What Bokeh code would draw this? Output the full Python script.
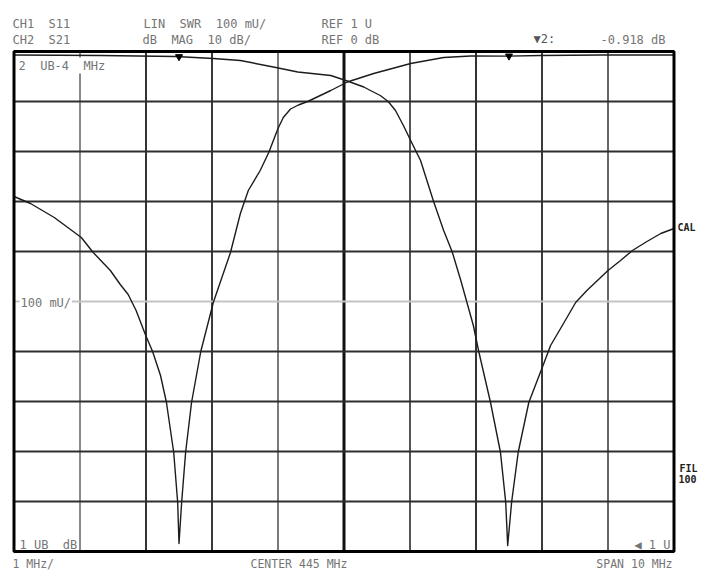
import numpy as np
from bokeh.plotting import figure
from bokeh.models import Range1d, Label
from bokeh.embed import file_html
from bokeh.resources import INLINE

# CH1: S11, linear SWR, 100 mU/div, reference 1 U at the bottom line
freq_ch1 = [440.00, 441.31, 442.45, 443.02, 443.43, 443.93, 444.30, 444.80, 445.05,
            445.30, 445.40, 445.55, 445.67, 445.78, 445.90, 446.01, 446.16, 446.36,
            446.51, 446.64, 446.77, 446.96, 447.04, 447.22, 447.37, 447.45, 447.48,
            447.54, 447.64, 447.80, 448.03, 448.13, 448.33, 448.51, 448.68, 449.00,
            449.19, 449.37, 449.59, 449.80, 450.00]
swr_ch1 = [1.993, 1.992, 1.990, 1.986, 1.982, 1.969, 1.959, 1.952, 1.941,
           1.929, 1.922, 1.912, 1.900, 1.882, 1.852, 1.822, 1.782, 1.699,
           1.642, 1.599, 1.542, 1.452, 1.401, 1.298, 1.199, 1.099, 1.012,
           1.099, 1.199, 1.298, 1.377, 1.412, 1.457, 1.498, 1.522, 1.562,
           1.582, 1.602, 1.620, 1.636, 1.646]

# CH2: S21, log magnitude, 10 dB/div, reference 0 dB at the top line
freq_ch2 = [440.00, 440.25, 440.61, 441.02, 441.20, 441.46, 441.61, 441.73, 441.85,
            441.99, 442.10, 442.22, 442.31, 442.42, 442.48, 442.50, 442.54, 442.60,
            442.69, 442.83, 443.02, 443.28, 443.43, 443.55, 443.73, 443.86, 444.00,
            444.08, 444.19, 444.31, 444.45, 444.80, 445.05, 445.45, 446.01, 446.51,
            446.92, 447.48, 447.98, 448.89, 450.00]
db_ch2 = [-29.0, -30.4, -33.2, -37.2, -40.2, -43.8, -46.6, -48.6, -51.8,
          -56.6, -60.0, -64.8, -70.2, -80.2, -90.2, -98.4, -90.2, -80.2,
          -70.2, -60.0, -50.2, -40.2, -32.4, -27.8, -23.8, -20.2, -15.4,
          -13.2, -11.5, -10.7, -10.0, -7.8, -6.1, -4.4, -2.4, -1.2,
          -0.9, -0.92, -0.8, -0.7, -0.7]

center_mhz = 445.0
span_mhz = 10.0
swr_bottom, swr_top = 1.0, 2.0
db_bottom, db_top = -100.0, 0.0
grid_freqs = [441, 442, 443, 444, 445, 446, 447, 448, 449]
grid_swr = [1.1, 1.2, 1.3, 1.4, 1.6, 1.7, 1.8, 1.9]
ref_line_swr = 1.5
marker_ch1_freq = 442.5
marker_ch2_freq = 447.5
marker_ch2_value = "-0.918 dB"

NB = "\u00a0"
header_row1 = ["CH1" + NB * 2 + "S11", "LIN" + NB * 2 + "SWR" + NB * 2 + "100 mU/", "REF 1 U"]
header_row2 = ["CH2" + NB * 2 + "S21", "dB" + NB * 2 + "MAG" + NB * 2 + "10 dB/", "REF 0 dB"]
footer = ["1 MHz/", "CENTER 445 MHz", "SPAN 10 MHz"]

# ---------------- layout ----------------
W, H = 704, 571
OX, OY = 0, 0                      # position of the canvas in the picture
GL, GR, GT, GB = 13.5, 673.5, 51.0, 551.0   # graticule box in the picture
f0, f1 = center_mhz - span_mhz / 2, center_mhz + span_mhz / 2
ppm = (GR - GL) / (f1 - f0)        # pixels per MHz
ppu = (GB - GT) / (swr_top - swr_bottom)   # pixels per SWR unit

xr = Range1d(f0 - (GL - OX) / ppm, f1 + (OX + W - GR) / ppm)
yr = Range1d(swr_bottom - (OY + H - GB) / ppu, swr_top + (GT - OY) / ppu)
dscale = (db_top - db_bottom) / (swr_top - swr_bottom)
dbr = Range1d(db_bottom + (yr.start - swr_bottom) * dscale, db_top + (yr.end - swr_top) * dscale)

p = figure(width=W, height=H, x_range=xr, y_range=yr,
           output_backend="svg", toolbar_location=None, title=None,
           x_axis_location=None, y_axis_location=None,
           min_border_left=0, min_border_right=0, min_border_top=0, min_border_bottom=0)
p.extra_y_ranges = {"db": dbr}
p.grid.visible = False
p.outline_line_color = None
p.background_fill_color = "white"
p.border_fill_color = "white"

def at(px, py):
    return (f0 + (px - GL) / ppm, swr_top - (py - GT) / ppu)

# graticule
vcols = ["#8a8a8a", "#333333", "#3a3a3a", "#7a7a7a", "#111111", "#555555", "#333333", "#3a3a3a", "#666666"]
vwid = [2 if f != center_mhz else 3 for f in grid_freqs]
p.segment(x0=grid_freqs, y0=[swr_bottom] * len(grid_freqs), x1=grid_freqs, y1=[swr_top] * len(grid_freqs),
          line_color=vcols, line_width=vwid)
p.segment(x0=[f0] * len(grid_swr), y0=grid_swr, x1=[f1] * len(grid_swr), y1=grid_swr,
          line_color="#2e2e2e", line_width=2)
p.segment(x0=[f0], y0=[ref_line_swr], x1=[f1], y1=[ref_line_swr], line_color="#c4c4c4", line_width=2)

# traces
p.line(freq_ch1, swr_ch1, line_color="#1c1c1c", line_width=1.4, line_join="round")
p.line(freq_ch2, db_ch2, line_color="#1c1c1c", line_width=1.4, line_join="round", y_range_name="db")

# frame
p.quad(left=[f0], right=[f1], bottom=[swr_bottom], top=[swr_top], fill_color=None,
       line_color="black", line_width=3)

# markers
m1y = float(np.interp(marker_ch1_freq, freq_ch1, swr_ch1))
m2y = float(np.interp(marker_ch2_freq, freq_ch2, db_ch2))
p.scatter([marker_ch1_freq], [m1y], marker="inverted_triangle", size=7, color="black")
p.scatter([marker_ch2_freq], [m2y], marker="inverted_triangle", size=7, color="black",
          y_range_name="db")

FONT = "DejaVu Sans Mono"
TXT = "#757575"

def lab(px, py, text, size="12px", color=TXT, bg=None, style="normal", align="left"):
    fx, fy = at(px, py)
    kw = {}
    if bg is not None:
        kw = dict(background_fill_color=bg, background_fill_alpha=1.0, padding=1)
    p.add_layout(Label(x=fx, y=fy, text=text, text_font=FONT, text_font_size=size,
                       text_color=color, text_baseline="top", text_align=align,
                       text_font_style=style, **kw))

# header
for px, t in zip([12, 143, 321], header_row1):
    lab(px, 16, t)
for px, t in zip([12, 142, 321], header_row2):
    lab(px, 32, t)
lab(533, 31, "\u25BC2:", color="#555555")
lab(665, 32, marker_ch2_value, align="right")

# inside labels
lab(17, 57, "2" + NB * 2 + "UB-4" + NB * 2 + "MHz", bg="white")
lab(19, 294, "100 mU/", bg="white")
lab(19, 537, "1 UB" + NB * 2 + "dB")
lab(670, 537, "\u25C0 1 U", align="right")

# right side
lab(677, 221, "CAL", size="10px", color="#222222", style="bold")
lab(679, 462, "FIL", size="10px", color="#222222", style="bold")
lab(678, 474, "100", size="10px", color="#222222", style="bold")

# footer
lab(12, 556, footer[0], size="11.5px")
lab(250, 556, footer[1], size="11.5px")
lab(672, 556, footer[2], size="11.5px", align="right")

open("out.html", "w").write(file_html(p, INLINE))
